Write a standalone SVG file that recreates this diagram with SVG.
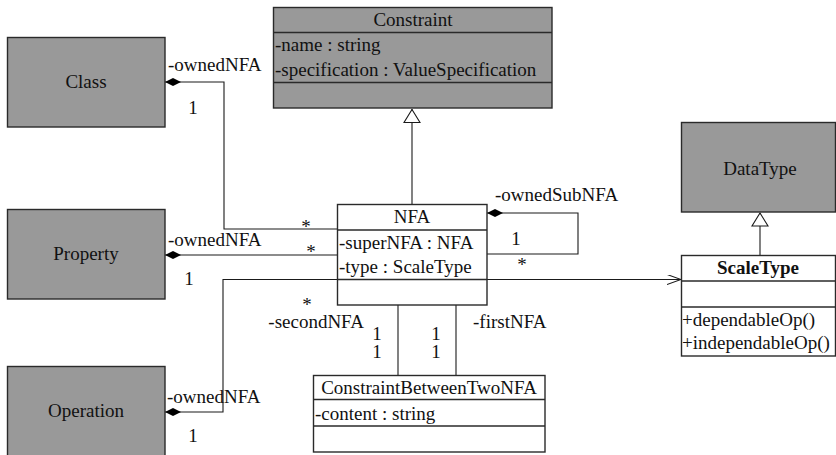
<svg xmlns="http://www.w3.org/2000/svg" width="836" height="455" viewBox="0 0 836 455" font-family="'Liberation Serif', 'DejaVu Serif', serif">
  <style>
    text { font-family: "Liberation Serif", "DejaVu Serif", serif; font-size: 19px; fill: #111; }
    .mid { text-anchor: middle; }
    .end { text-anchor: end; }
    .bold { font-weight: bold; }
    .gray { fill: #999999; stroke: #2a2a2a; stroke-width: 1.4; }
    .white { fill: #ffffff; stroke: #2a2a2a; stroke-width: 1.4; }
    .div { stroke: #2a2a2a; stroke-width: 1.4; fill: none; }
    .conn { stroke: #1a1a1a; stroke-width: 1.1; fill: none; }
  </style>
  <defs>
    <!-- filled composition diamond, drawn outward from the owning class -->
    <marker id="diamond" viewBox="0 0 16 8" refX="0" refY="4" markerWidth="16" markerHeight="8" markerUnits="userSpaceOnUse" orient="auto">
      <path d="M0,4 L8,0 L16,4 L8,8 Z" fill="#000"/>
    </marker>
    <marker id="open" viewBox="0 0 14 10" refX="14" refY="5" markerWidth="14" markerHeight="10" markerUnits="userSpaceOnUse" orient="auto">
      <path d="M0,0 L14,5 L0,10" fill="none" stroke="#1a1a1a" stroke-width="1.1"/>
    </marker>
    <marker id="gen" viewBox="0 0 18 14" refX="9" refY="0" markerWidth="18" markerHeight="14" markerUnits="userSpaceOnUse" orient="0">
      <path d="M9,0.5 L17,13.5 L1,13.5 Z" fill="#fff" stroke="#1a1a1a" stroke-width="1.1"/>
    </marker>
  </defs>

  <rect width="836" height="455" fill="#ffffff"/>

  <!-- connectors -->
  <g id="connectors">
    <!-- Class owns NFA -->
    <polyline class="conn" points="165,82 224,82 224,229 337,229" marker-start="url(#diamond)"/>
    <!-- Property owns NFA -->
    <polyline class="conn" points="165,255 337,255" marker-start="url(#diamond)"/>
    <!-- Operation owns NFA -->
    <polyline class="conn" points="165,412 223,412 223,279.5 337,279.5" marker-start="url(#diamond)"/>
    <!-- NFA owns sub NFA -->
    <polyline class="conn" points="487,213 578,213 578,254 487,254" marker-start="url(#diamond)"/>
    <!-- NFA -> ScaleType -->
    <line class="conn" x1="487" y1="279.5" x2="681" y2="279.5" marker-end="url(#open)"/>
    <!-- NFA generalizes Constraint -->
    <line class="conn" x1="412" y1="204" x2="412" y2="109" marker-end="url(#gen)"/>
    <!-- ScaleType generalizes DataType -->
    <line class="conn" x1="760" y1="255" x2="760" y2="212.5" marker-end="url(#gen)"/>
    <!-- ConstraintBetweenTwoNFA links -->
    <line class="conn" x1="398" y1="305" x2="398" y2="375"/>
    <line class="conn" x1="456" y1="305" x2="456" y2="375"/>

    <!-- labels -->
    <text x="168" y="71">-ownedNFA</text>
    <text x="193" y="114" class="mid">1</text>
    <text x="168" y="246">-ownedNFA</text>
    <text x="189" y="285" class="mid">1</text>
    <text x="306" y="233" class="mid">*</text>
    <text x="311" y="258" class="mid">*</text>
    <text x="307" y="311" class="mid">*</text>
    <text x="167" y="403">-ownedNFA</text>
    <text x="193" y="442" class="mid">1</text>
    <text x="495" y="201">-ownedSubNFA</text>
    <text x="516" y="245" class="mid">1</text>
    <text x="522" y="271" class="mid">*</text>
    <text x="364" y="328" class="end">-secondNFA</text>
    <text x="377" y="340" class="mid">1</text>
    <text x="377" y="358" class="mid">1</text>
    <text x="436" y="340" class="mid">1</text>
    <text x="436" y="358" class="mid">1</text>
    <text x="473" y="328">-firstNFA</text>
  </g>

  <!-- Class -->
  <g id="class">
    <rect class="gray" x="7.5" y="37.5" width="157.5" height="89.5"/>
    <text x="86" y="88" class="mid">Class</text>
  </g>

  <!-- Property -->
  <g id="property">
    <rect class="gray" x="7.5" y="209.5" width="157.5" height="89.5"/>
    <text x="86" y="260" class="mid">Property</text>
  </g>

  <!-- Operation -->
  <g id="operation">
    <rect class="gray" x="7.5" y="366.5" width="157.5" height="95"/>
    <text x="86" y="417" class="mid">Operation</text>
  </g>

  <!-- Constraint -->
  <g id="constraint">
    <rect class="gray" x="273.5" y="7.5" width="278.5" height="100.5"/>
    <line class="div" x1="273.5" y1="32.5" x2="552" y2="32.5"/>
    <line class="div" x1="273.5" y1="82.5" x2="552" y2="82.5"/>
    <text x="413" y="26" class="mid">Constraint</text>
    <text x="275" y="51">-name : string</text>
    <text x="275" y="76">-specification : ValueSpecification</text>
  </g>

  <!-- NFA -->
  <g id="nfa">
    <rect class="white" x="337.5" y="204.5" width="149.5" height="100.5"/>
    <line class="div" x1="337.5" y1="230" x2="487" y2="230"/>
    <line class="div" x1="337.5" y1="279.5" x2="487" y2="279.5"/>
    <text x="412" y="223" class="mid">NFA</text>
    <text x="339" y="249">-superNFA : NFA</text>
    <text x="339" y="273">-type : ScaleType</text>
  </g>

  <!-- DataType -->
  <g id="datatype">
    <rect class="gray" x="681.5" y="122.5" width="154" height="89.5"/>
    <text x="760" y="175" class="mid">DataType</text>
  </g>

  <!-- ScaleType -->
  <g id="scaletype">
    <rect class="white" x="681.5" y="255.5" width="154" height="100.5"/>
    <line class="div" x1="681.5" y1="281" x2="835.5" y2="281"/>
    <line class="div" x1="681.5" y1="307" x2="835.5" y2="307"/>
    <text x="758" y="274" class="mid bold">ScaleType</text>
    <text x="682" y="326">+dependableOp()</text>
    <text x="682" y="349">+independableOp()</text>
  </g>

  <!-- ConstraintBetweenTwoNFA -->
  <g id="constraintBetweenTwoNFA">
    <rect class="white" x="313.5" y="375.5" width="231.5" height="76.5"/>
    <line class="div" x1="313.5" y1="399.5" x2="545" y2="399.5"/>
    <line class="div" x1="313.5" y1="426" x2="545" y2="426"/>
    <text x="429" y="394" class="mid">ConstraintBetweenTwoNFA</text>
    <text x="315" y="420">-content : string</text>
  </g>
</svg>
